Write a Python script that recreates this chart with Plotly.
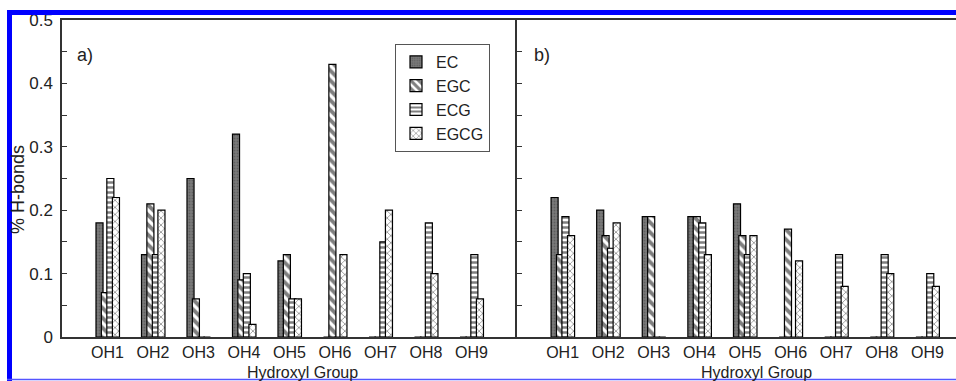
import plotly.graph_objects as go

categories = ["OH1", "OH2", "OH3", "OH4", "OH5", "OH6", "OH7", "OH8", "OH9"]
series_names = ["EC", "EGC", "ECG", "EGCG"]

# panel a)
a_EC   = [0.18, 0.13, 0.25, 0.32, 0.12, 0.00, 0.00, 0.00, 0.00]
a_EGC  = [0.07, 0.21, 0.06, 0.09, 0.13, 0.43, 0.00, 0.00, 0.00]
a_ECG  = [0.25, 0.13, 0.00, 0.10, 0.06, 0.00, 0.15, 0.18, 0.13]
a_EGCG = [0.22, 0.20, 0.00, 0.02, 0.06, 0.13, 0.20, 0.10, 0.06]

# panel b)
b_EC   = [0.22, 0.20, 0.19, 0.19, 0.21, 0.00, 0.00, 0.00, 0.00]
b_EGC  = [0.13, 0.16, 0.19, 0.19, 0.16, 0.17, 0.00, 0.00, 0.00]
b_ECG  = [0.19, 0.14, 0.00, 0.18, 0.13, 0.00, 0.13, 0.13, 0.10]
b_EGCG = [0.16, 0.18, 0.00, 0.13, 0.16, 0.12, 0.08, 0.10, 0.08]

y_ticks = [0, 0.1, 0.2, 0.3, 0.4, 0.5]
y_ticktext = ["0", "0.1", "0.2", "0.3", "0.4", "0.5"]

FONT = "Arial, Liberation Sans, sans-serif"

styles = {
    "EC":   dict(color="#6e6e6e", pattern=dict(shape=".", fgcolor="#444", bgcolor="#7a7a7a", size=3, solidity=0.3)),
    "EGC":  dict(color="white", pattern=dict(shape="\\", fgcolor="black", bgcolor="white", size=7, solidity=0.55)),
    "ECG":  dict(color="white", pattern=dict(shape="-", fgcolor="black", bgcolor="white", size=5, solidity=0.5)),
    "EGCG": dict(color="white", pattern=dict(shape="x", fgcolor="#222", bgcolor="white", size=5, solidity=0.3)),
}
offsets = {"EC": -0.253, "EGC": -0.135, "ECG": -0.015, "EGCG": 0.108}
BAR_W = 0.155

fig = go.Figure()
panels = [
    ("x", "y", [a_EC, a_EGC, a_ECG, a_EGCG], True),
    ("x2", "y2", [b_EC, b_EGC, b_ECG, b_EGCG], False),
]
for xa, ya, vals, show in panels:
    for name, v in zip(series_names, vals):
        st = styles[name]
        fig.add_trace(go.Bar(
            x=categories, y=v, name=name, xaxis=xa, yaxis=ya,
            offset=offsets[name], width=BAR_W, showlegend=show,
            marker=dict(color=st["color"], pattern=st["pattern"],
                        line=dict(color="black", width=1.2)),
        ))

W, H = 956, 381
L, R, T, B = 62, 0, 20, 44
pw, ph = W - L - R, H - T - B
split = (517 - L) / pw

def px(xp):
    return (xp - L) / pw

def py(yp):
    return (H - B - yp) / ph

axis_col = "#333333"
yax_common = dict(range=[0, 0.5], showgrid=False, zeroline=False, showline=True,
                  linecolor=axis_col, linewidth=1.5, ticks="inside", ticklen=5,
                  tickcolor=axis_col, tickvals=y_ticks, ticktext=y_ticktext,
                  ticklabelstandoff=4,
                  minor=dict(tickvals=[0.05, 0.15, 0.25, 0.35, 0.45], ticks="inside",
                             ticklen=5, tickcolor=axis_col),
                  tickfont=dict(family=FONT, size=17, color="#222"))

fig.update_layout(
    width=W, height=H,
    margin=dict(l=L, r=R, t=T, b=B),
    paper_bgcolor="white", plot_bgcolor="white",
    barmode="overlay",
    font=dict(family=FONT, color="#222"),
    xaxis=dict(domain=[0, split], range=[-1, 9], showgrid=False, showline=True, mirror=True,
               linecolor=axis_col, linewidth=1.5, ticks="", zeroline=False,
               tickfont=dict(family=FONT, size=16, color="#222")),
    xaxis2=dict(domain=[split, 1], range=[-1, (W - 517) / 45.6 - 1], showgrid=False, showline=True,
                mirror=True, linecolor=axis_col, linewidth=1.5, ticks="", zeroline=False,
                anchor="y2",
                tickfont=dict(family=FONT, size=16, color="#222")),
    yaxis=dict(anchor="x", mirror=False, **yax_common),
    yaxis2=dict(anchor="x2", showticklabels=False, **yax_common),
    legend=dict(x=px(395), y=py(44), xanchor="left", yanchor="top",
                bordercolor="#555", borderwidth=1, bgcolor="white",
                font=dict(family=FONT, size=16, color="#222"),
                tracegroupgap=0, itemwidth=30),
    showlegend=True,
)

fig.add_annotation(text="a)", x=px(85), y=py(43), xref="paper", yref="paper",
                   xanchor="center", showarrow=False, font=dict(family=FONT, size=18, color="#222"))
fig.add_annotation(text="b)", x=px(542), y=py(43), xref="paper", yref="paper",
                   xanchor="center", showarrow=False, font=dict(family=FONT, size=18, color="#222"))
fig.add_annotation(text="Hydroxyl Group", x=px(302), y=py(382), xref="paper", yref="paper",
                   showarrow=False, xanchor="center", yanchor="bottom", borderpad=0,
                   font=dict(family=FONT, size=16, color="#222"))
fig.add_annotation(text="Hydroxyl Group", x=px(756), y=py(382), xref="paper", yref="paper",
                   showarrow=False, xanchor="center", yanchor="bottom", borderpad=0,
                   font=dict(family=FONT, size=16, color="#222"))
fig.add_annotation(text="% H-bonds", x=px(18), y=py(190), xref="paper", yref="paper",
                   showarrow=False, textangle=-90, xanchor="center", yanchor="middle",
                   font=dict(family=FONT, size=18, color="#222"))

# blue scan frame
blue = "#0000ff"
fig.add_shape(type="rect", xref="paper", yref="paper", x0=px(7), x1=px(W), y0=py(15), y1=py(10),
              fillcolor=blue, line=dict(width=0), layer="above")
fig.add_shape(type="rect", xref="paper", yref="paper", x0=px(7), x1=px(12), y0=py(H), y1=py(10),
              fillcolor=blue, line=dict(width=0), layer="above")
fig.add_shape(type="line", xref="paper", yref="paper", x0=px(7), x1=px(W), y0=py(379.5), y1=py(379.5),
              line=dict(color="#5555ff", width=1.5), layer="above")

fig.write_html("out.html", config={"displayModeBar": False},
               post_script="document.body.style.margin='0';document.body.style.overflow='hidden';")
